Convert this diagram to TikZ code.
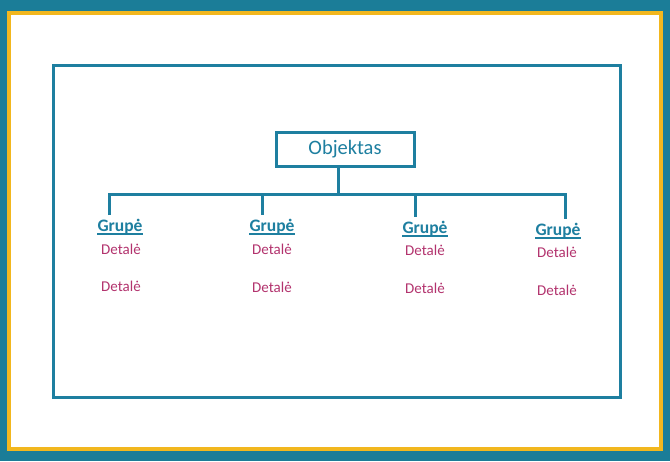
\documentclass[tikz,border=0pt]{standalone}
\usepackage{fontspec}
\setmainfont{Carlito}
\usetikzlibrary{calc}
\definecolor{bgteal}{HTML}{1B7D98}
\definecolor{frameyellow}{HTML}{F2B71E}
\definecolor{lineblue}{HTML}{1E7FA0}
\definecolor{detail}{HTML}{B3336E}
\newcommand{\grpul}[1]{\tikz[baseline=(w.base)]{\node[inner sep=0pt] (w) {#1};\draw[lineblue, line width=1.4pt] ([yshift=-2.2pt]w.base west) -- ([yshift=-2.2pt]w.base east);}}
\tikzset{
  line/.style={draw=lineblue, line width=3pt},
  group/.style={text=lineblue, font=\fontsize{17.5}{19}\selectfont\bfseries, inner sep=0pt},
  detailtext/.style={text=detail, font=\fontsize{15}{17}\selectfont, inner sep=0pt},
}
\begin{document}
\begin{tikzpicture}[x=1pt,y=-1pt]
\fill[bgteal] (0,0) rectangle (670,461);
\useasboundingbox (0,0) rectangle (670,461);
\draw[frameyellow, line width=4.5pt, fill=white] (9,13) rectangle (661,449);
\draw[line] (53,65) rectangle (620,397);
\node[line, minimum width=138pt, minimum height=34pt, text=lineblue,
      font=\fontsize{20.5}{22}\selectfont] (obj) at (345,149) {Objektas};
\coordinate (hub) at (338,194);
\node[group] (g1) at (120,227) {\grpul{Grupė}};
\node[group] (g2) at (272,227) {\grpul{Grupė}};
\node[group] (g3) at (425,229) {\grpul{Grupė}};
\node[group] (g4) at (558,231) {\grpul{Grupė}};
\coordinate (t1) at (109,194);
\coordinate (t2) at (262,194);
\coordinate (t3) at (415,194);
\coordinate (t4) at (565,194);
\draw[line] (obj.south -| hub) -- (hub);
\draw[line, line join=miter] ($(g1.north -| t1)+(0,-4)$) -- (t1) -- (t4) -- ($(g4.north -| t4)+(0,-4)$);
\draw[line] (t2) -- ($(g2.north -| t2)+(0,-4)$);
\draw[line] (t3) -- ($(g3.north -| t3)+(0,-4)$);
\node[detailtext] (d11) at (121,249) {Detalė};
\node[detailtext] (d12) at (121,286) {Detalė};
\node[detailtext] (d21) at (272,249) {Detalė};
\node[detailtext] (d22) at (272,287) {Detalė};
\node[detailtext] (d31) at (425,250) {Detalė};
\node[detailtext] (d32) at (425,288) {Detalė};
\node[detailtext] (d41) at (557,252) {Detalė};
\node[detailtext] (d42) at (557,290) {Detalė};
\end{tikzpicture}
\end{document}
